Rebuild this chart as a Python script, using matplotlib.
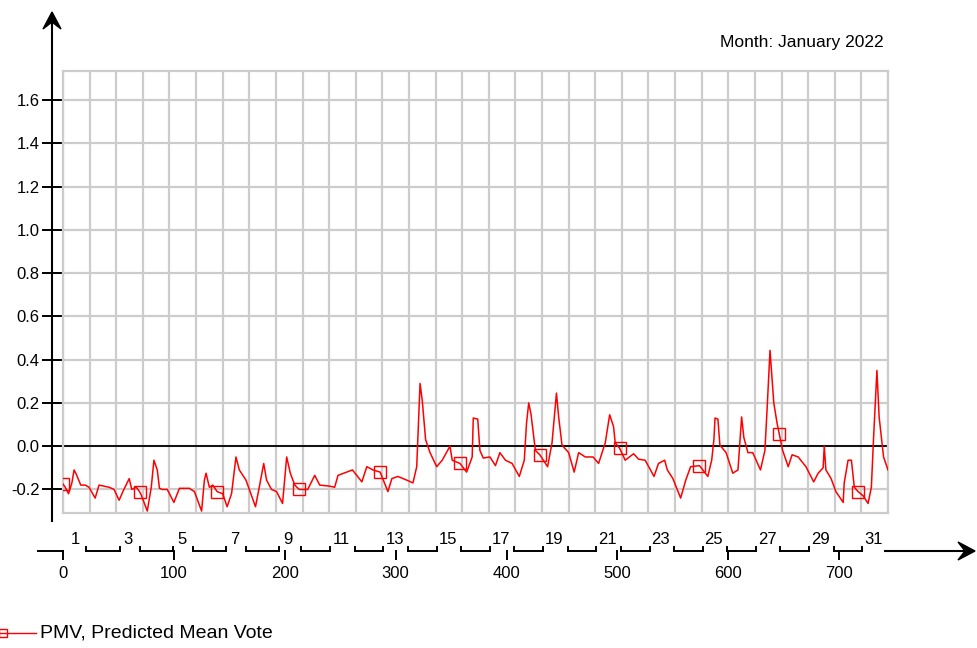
import numpy as np
import matplotlib
matplotlib.use("Agg")
import matplotlib.pyplot as plt
from matplotlib.patches import Polygon
from matplotlib.lines import Line2D
from matplotlib.transforms import blended_transform_factory, IdentityTransform

plt.rcParams['font.family'] = ['Liberation Sans', 'DejaVu Sans']
plt.rcParams['axes.unicode_minus'] = False

# hourly PMV readings (hour of month, value)
hours = [0, 2, 5, 8, 10, 12, 16, 20, 23.5, 29, 32.5, 37, 41.6, 46, 50.6, 54, 59.7, 62, 66, 69,
         70.5, 76, 79.6, 82, 85, 87, 89.5, 94, 100, 105, 114, 118.5, 125, 127.5, 129, 132, 135, 139,
         144, 148, 152, 156, 159, 165, 173.6, 177, 181, 183.6, 188, 192.6, 198, 201.7, 205, 209,
         213, 220.7, 227, 231.5, 240.6, 245, 248, 261, 269.5, 274, 279.5, 286, 293, 296.6, 302,
         310, 315.6, 319, 322, 324, 327, 331, 337, 342, 349, 351, 358, 364, 369, 370, 374, 376,
         379, 385, 390, 394, 399, 405, 411.5, 416, 418, 420, 422, 426, 430, 437, 441, 445, 447,
         450, 456, 461, 465, 471, 478, 483, 489, 493, 496.5, 498, 502, 507, 514.6, 519, 525, 533,
         537, 542.6, 545, 550, 557, 561.6, 566, 574, 581.5, 585, 587, 588, 590.6, 592.4, 598, 604,
         608.7, 612, 614, 617.7, 622, 629, 633, 635, 637.6, 641, 644, 646.6, 649, 654, 657.5, 663,
         670, 677, 681, 685.5, 686.5, 688, 692.7, 697, 703.6, 704.5, 708, 711, 713.6, 717, 721.7,
         726, 729, 731, 734, 736, 740, 744]
pmv = [-0.175, -0.19, -0.22, -0.17, -0.11, -0.13, -0.18, -0.18, -0.19, -0.24, -0.18, -0.185, -0.19,
       -0.20, -0.25, -0.21, -0.15, -0.20, -0.19, -0.21, -0.225, -0.30, -0.19, -0.065, -0.11, -0.195,
       -0.20, -0.20, -0.26, -0.195, -0.195, -0.21, -0.30, -0.157, -0.125, -0.19, -0.18, -0.21,
       -0.22, -0.28, -0.22, -0.05, -0.11, -0.157, -0.28, -0.19, -0.08, -0.157, -0.20, -0.21,
       -0.265, -0.05, -0.125, -0.18, -0.20, -0.20, -0.135, -0.18, -0.185, -0.19, -0.135, -0.11,
       -0.165, -0.095, -0.11, -0.12, -0.21, -0.15, -0.14, -0.157, -0.17, -0.095, 0.29, 0.21,
       0.03, -0.03, -0.095, -0.065, 0.0, -0.065, -0.08, -0.12, -0.05, 0.13, 0.125, -0.02,
       -0.055, -0.05, -0.09, -0.03, -0.065, -0.08, -0.14, -0.065, 0.105, 0.20, 0.15, -0.02,
       -0.04, -0.095, 0.015, 0.245, 0.135, 0.005, -0.03, -0.12, -0.03, -0.05, -0.05, -0.08,
       0.015, 0.145, 0.09, 0.015, -0.01, -0.065, -0.035, -0.06, -0.065, -0.14, -0.08, -0.065,
       -0.11, -0.15, -0.24, -0.157, -0.095, -0.09, -0.14, -0.065, 0.03, 0.13, 0.125, 0.005,
       -0.03, -0.125, -0.11, 0.135, 0.04, -0.03, -0.03, -0.11, -0.02, 0.175, 0.443, 0.20,
       0.105, 0.04, -0.02, -0.095, -0.04, -0.05, -0.095, -0.165, -0.125, -0.10, 0.0, -0.11,
       -0.15, -0.21, -0.26, -0.17, -0.065, -0.065, -0.19, -0.21, -0.23, -0.265, -0.19, 0.04,
       0.35, 0.135, -0.05, -0.11]
marker_hours = [0, 69, 139, 213, 286, 358, 430, 502, 574, 646, 717]

y_ticks = [-0.2, 0.0, 0.2, 0.4, 0.6, 0.8, 1.0, 1.2, 1.4, 1.6]
hour_ticks = [0, 100, 200, 300, 400, 500, 600, 700]
days = list(range(1, 32))
title = "Month: January 2022"
series_label = "PMV, Predicted Mean Vote"

W, H = 977, 648
fig = plt.figure(figsize=(W / 100, H / 100), dpi=100)
ax = fig.add_axes([63 / W, (H - 513) / H, (888 - 63) / W, (513 - 71) / H])
ax.set_xlim(0, 744)
ax.set_ylim(-0.309, 1.734)

grid_col = '#cccccc'
for sp in ax.spines.values():
    sp.set_color(grid_col)
    sp.set_linewidth(1.6)
ax.set_xticks(np.arange(0, 745, 24))
ax.set_yticks(y_ticks)
ax.set_yticklabels(['%.1f' % v for v in y_ticks])
ax.grid(True, color=grid_col, linewidth=1.6)
ax.set_axisbelow(True)
ax.tick_params(axis='x', length=0, labelbottom=False)
ax.tick_params(axis='y', length=15, width=1.4, pad=2, labelsize=12, colors='black')

ax.axhline(0, color='black', linewidth=1.3, zorder=2)
ax.plot(hours, pmv, color='red', linewidth=1.1, zorder=3)
ax.plot(marker_hours, np.interp(marker_hours, hours, pmv), linestyle='none', marker='s',
        markersize=8, markerfacecolor='none', markeredgecolor='red', markeredgewidth=1.0, zorder=4)

ident = IdentityTransform()


def arrow_head(tip, direction):
    # small concave "stealth" arrow head in pixel space
    tx, ty = tip
    if direction == 'up':
        pts = [(tx, ty), (tx - 9, ty - 17), (tx, ty - 10), (tx + 9, ty - 17)]
    else:
        pts = [(tx, ty), (tx - 17, ty + 9), (tx - 10, ty), (tx - 17, ty - 9)]
    fig.add_artist(Polygon(pts, closed=True, facecolor='black', edgecolor='black',
                           linewidth=1.0, transform=ident))


# y axis with arrow
fig.add_artist(Line2D([52, 52], [H - 521, H - 20], color='black', linewidth=1.5, transform=ident))
arrow_head((52, H - 12), 'up')

# bottom day / hour axis
trans = blended_transform_factory(ax.transData, ident)
ax_y = H - 551
kw = dict(color='black', linewidth=1.4, transform=trans, clip_on=False)
ax.add_line(Line2D([-22.5, 0], [ax_y, ax_y], **kw))
for d in days:
    if d % 2 == 0:
        e = 3 if d < 10 else 1
        x0, x1 = 24 * (d - 1) - e, 24 * d + e
        ax.add_line(Line2D([x0, x1], [ax_y, ax_y], **kw))
        ax.add_line(Line2D([x0, x0], [ax_y, ax_y + 4], **kw))
        ax.add_line(Line2D([x1, x1], [ax_y, ax_y + 4], **kw))
    else:
        ax.text(24 * (d - 1) + 11, H - 540, str(d), transform=trans, ha='center', va='center',
                fontsize=12, clip_on=False)
for hr in hour_ticks:
    ax.add_line(Line2D([hr, hr], [ax_y, ax_y - 8], **kw))
    ax.text(hr, H - 573, str(hr), transform=trans, ha='center', va='center', fontsize=12,
            clip_on=False)
fig.add_artist(Line2D([885, 968], [ax_y, ax_y], color='black', linewidth=1.5, transform=ident))
arrow_head((975, ax_y), 'right')

fig.text(884 / W, (H - 42) / H, title, ha='right', va='center', fontsize=12.5)

# legend at bottom-left
leg_y = (H - 633) / H
fig.add_artist(Line2D([-2 / W, 36 / W], [leg_y, leg_y], color='red', linewidth=1.0,
                      transform=fig.transFigure))
fig.add_artist(Line2D([3 / W], [leg_y], marker='s', markersize=6, markerfacecolor='none',
                      markeredgecolor='red', markeredgewidth=1.0, transform=fig.transFigure))
fig.text(40 / W, leg_y, series_label, ha='left', va='center', fontsize=14)

fig.savefig('out.png', dpi=100)
